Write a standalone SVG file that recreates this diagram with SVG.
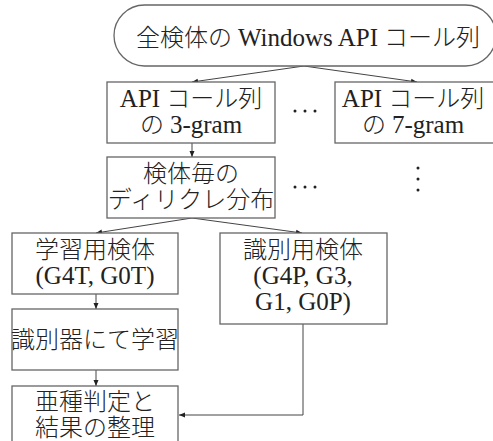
<svg xmlns="http://www.w3.org/2000/svg" width="493" height="441" viewBox="0 0 493 441">
<style>
.box{fill:#fff;stroke:#666;stroke-width:1.3}
.t{font-family:"Liberation Serif","Noto Sans CJK JP",serif;font-size:24px;font-weight:300;fill:#222;text-anchor:middle}
.l{font-size:25px;font-weight:400}
.c{stroke:#444;stroke-width:1;fill:none}
.dot{fill:#222}
</style>
<defs>
<marker id="ah" viewBox="0 0 6 6" refX="6" refY="3" markerWidth="6" markerHeight="6" orient="auto" markerUnits="userSpaceOnUse">
<path d="M0,0.5 L6,3 L0,5.5 Z" fill="#222"/>
</marker>
</defs>
<g id="connectors">
<line class="c" x1="304" y1="66" x2="192" y2="82" marker-end="url(#ah)"/>
<line class="c" x1="304" y1="66" x2="417" y2="82" marker-end="url(#ah)"/>
<line class="c" x1="192" y1="143" x2="192" y2="157" marker-end="url(#ah)"/>
<line class="c" x1="192" y1="218" x2="96" y2="233" marker-end="url(#ah)"/>
<line class="c" x1="192" y1="218" x2="302" y2="233" marker-end="url(#ah)"/>
<line class="c" x1="96" y1="294" x2="96" y2="309" marker-end="url(#ah)"/>
<line class="c" x1="96" y1="370" x2="96" y2="386" marker-end="url(#ah)"/>
<polyline class="c" points="303,324 303,415 179,415" marker-end="url(#ah)"/>
</g>
<g id="n-all">
<rect class="box" x="114" y="5" width="382" height="61" rx="30.5" ry="30.5"/>
<text class="t" x="308" y="46">全検体の <tspan class="l">Windows API</tspan> コール列</text>
</g>
<g id="n-3gram">
<rect class="box" x="107" y="82" width="168" height="61"/>
<text class="t" x="191" y="107"><tspan class="l">API</tspan> コール列</text>
<text class="t" x="191" y="133">の <tspan class="l">3-gram</tspan></text>
</g>
<g id="n-7gram">
<rect class="box" x="335" y="82" width="162" height="61"/>
<text class="t" x="413" y="107"><tspan class="l">API</tspan> コール列</text>
<text class="t" x="413" y="133">の <tspan class="l">7-gram</tspan></text>
</g>
<g id="dots">
<circle class="dot" cx="295" cy="111" r="1.5"/><circle class="dot" cx="305" cy="111" r="1.5"/><circle class="dot" cx="315" cy="111" r="1.5"/>
<circle class="dot" cx="295" cy="187" r="1.5"/><circle class="dot" cx="305" cy="187" r="1.5"/><circle class="dot" cx="315" cy="187" r="1.5"/>
<circle class="dot" cx="418" cy="168" r="1.5"/><circle class="dot" cx="418" cy="179" r="1.5"/><circle class="dot" cx="418" cy="190" r="1.5"/>
</g>
<g id="n-dirichlet">
<rect class="box" x="107" y="157" width="168" height="61"/>
<text class="t" x="191" y="182">検体毎の</text>
<text class="t" x="191" y="208">ディリクレ分布</text>
</g>
<g id="n-train">
<rect class="box" x="12" y="233" width="166" height="61"/>
<text class="t" x="95" y="258">学習用検体</text>
<text class="t" x="95" y="284"><tspan class="l">(G4T, G0T)</tspan></text>
</g>
<g id="n-test">
<rect class="box" x="220" y="233" width="167" height="91"/>
<text class="t" x="303" y="258">識別用検体</text>
<text class="t" x="303" y="284"><tspan class="l">(G4P, G3,</tspan></text>
<text class="t" x="303" y="310"><tspan class="l">G1, G0P)</tspan></text>
</g>
<g id="n-learn">
<rect class="box" x="12" y="309" width="166" height="61"/>
<text class="t" x="95" y="348">識別器にて学習</text>
</g>
<g id="n-result">
<rect class="box" x="12" y="386" width="166" height="70"/>
<text class="t" x="95" y="410">亜種判定と</text>
<text class="t" x="95" y="436">結果の整理</text>
</g>
</svg>
